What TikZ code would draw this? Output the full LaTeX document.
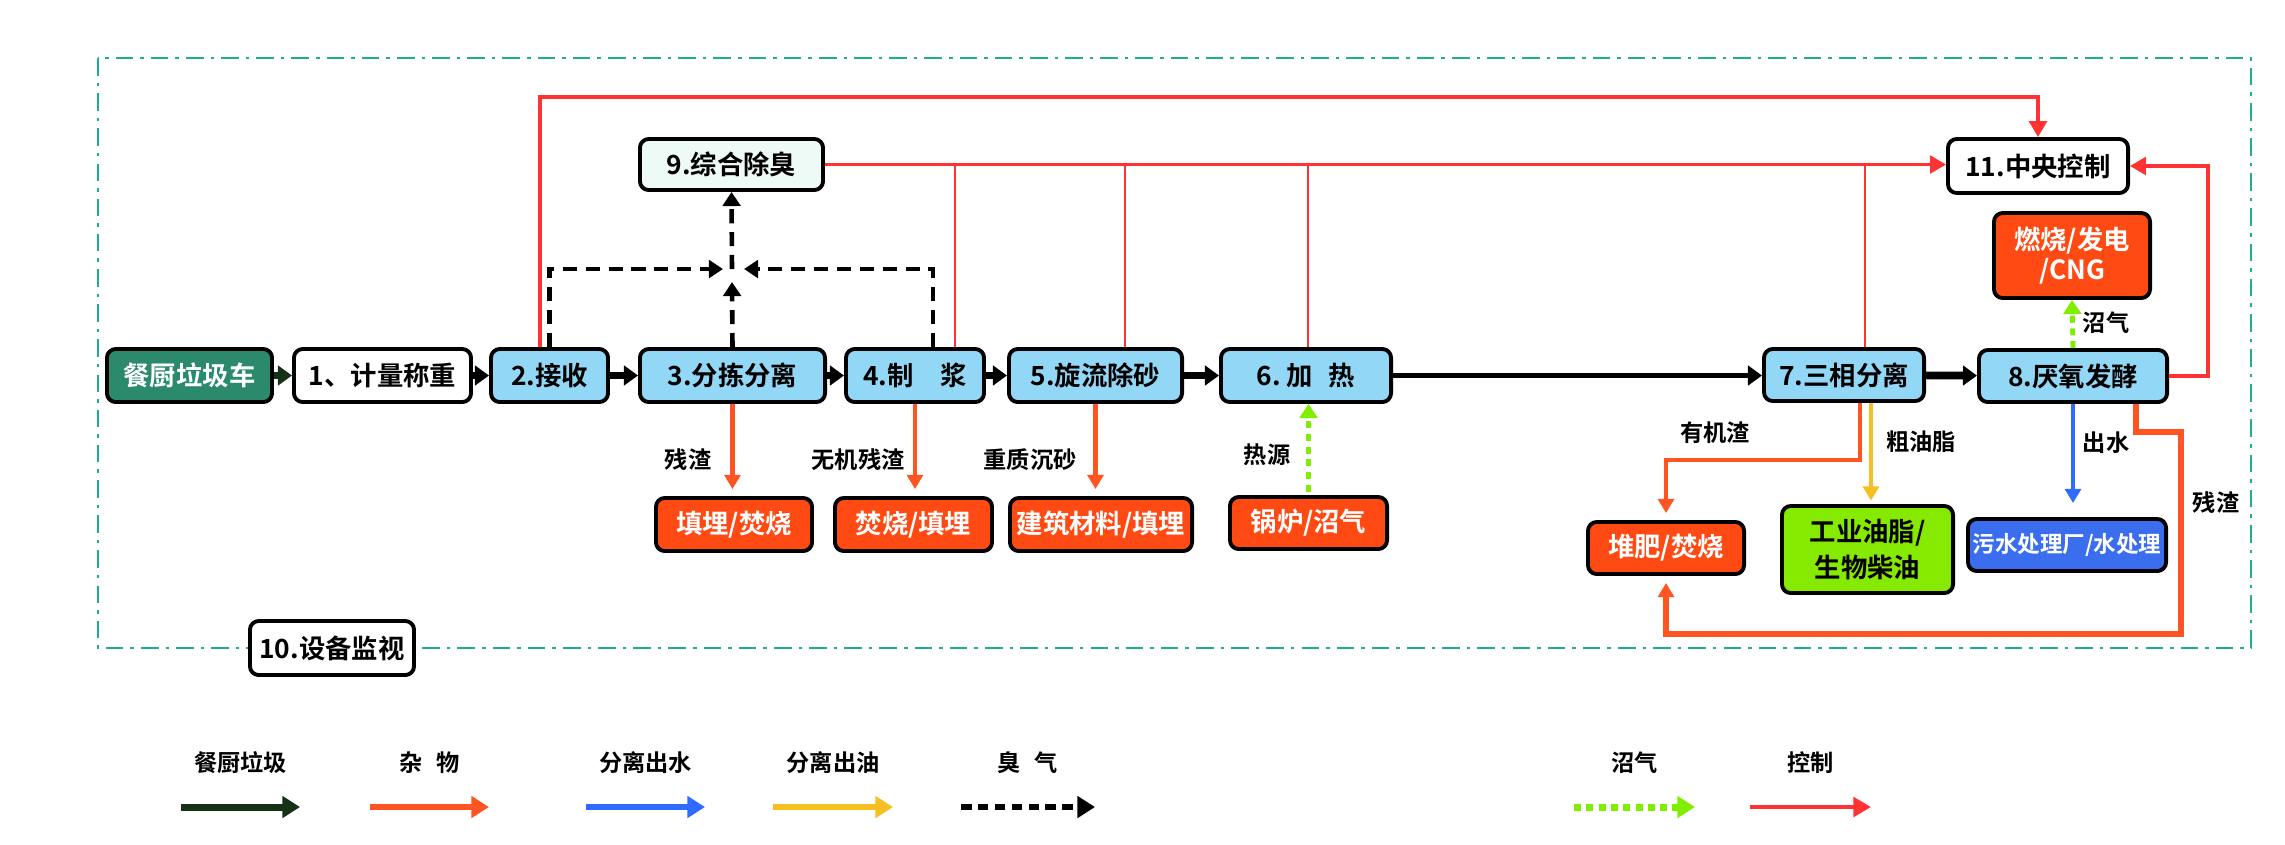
\documentclass[tikz,border=0pt]{standalone}
\usepackage{fontspec}
\setmainfont{Noto Sans CJK SC}[BoldFont=* Bold]
\usetikzlibrary{arrows.meta}
\definecolor{ProcClr}{HTML}{92D8F6}
\definecolor{TruckClr}{HTML}{2C8A6C}
\definecolor{SinkClr}{HTML}{FF4A14}
\definecolor{OilBoxClr}{HTML}{86EA00}
\definecolor{WaterBoxClr}{HTML}{3A6EEE}
\definecolor{OdourBoxClr}{HTML}{EEFAF6}
\definecolor{CtrlClr}{HTML}{FF3333}
\definecolor{WasteClr}{HTML}{FF5522}
\definecolor{WaterClr}{HTML}{2F6BFF}
\definecolor{OilClr}{HTML}{F5BF1F}
\definecolor{GasClr}{HTML}{7FEE00}
\definecolor{FoodClr}{HTML}{163216}
\definecolor{FrameClr}{HTML}{1FAE8C}

\begin{document}
\begin{tikzpicture}[x=0.01cm,y=-0.01cm,
  box/.style={draw,line width=1.1pt,rounded corners=2.5pt,inner sep=0pt,align=center,
    font=\bfseries\fontsize{7.5}{9}\selectfont},
  proc/.style={box,fill=ProcClr},
  sink/.style={box,fill=SinkClr,text=white},
  lbl/.style={font=\bfseries\fontsize{6.6}{7}\selectfont},
  food/.style={draw=FoodClr,line width=2.2pt,-{Triangle[length=4pt,width=5.5pt]}},
  mainflow/.style={line width=2.2pt,-{Triangle[length=4pt,width=5.5pt]}},
  smell/.style={line width=1.3pt,dash pattern=on 4pt off 2.5pt,-{Triangle[length=4pt,width=5pt]}},
  ctrlline/.style={draw=CtrlClr,line width=0.7pt},
  ctrlarrow/.style={ctrlline,-{Triangle[length=4.5pt,width=5pt]}},
  waste/.style={draw=WasteClr,line width=1.2pt,-{Triangle[length=4pt,width=4.5pt]},shorten >=2pt},
  water/.style={draw=WaterClr,line width=1.2pt,-{Triangle[length=4pt,width=4.5pt]},shorten >=4pt},
  oilflow/.style={draw=OilClr,line width=1.2pt,-{Triangle[length=4pt,width=4.5pt]},shorten >=1pt},
  gas/.style={draw=GasClr,line width=1.4pt,dash pattern=on 2pt off 1.6pt,-{Triangle[length=4pt,width=5pt]}},
  frame/.style={draw=FrameClr,line width=0.8pt,dash pattern=on 5pt off 2pt on 1pt off 2pt},
  legfood/.style={food,line width=2pt,-{Triangle[length=5pt,width=6pt]}},
  legwaste/.style={draw=WasteClr,line width=1.8pt,-{Triangle[length=5pt,width=6pt]}},
  legwater/.style={draw=WaterClr,line width=1.8pt,-{Triangle[length=5pt,width=6pt]}},
  legoil/.style={draw=OilClr,line width=1.8pt,-{Triangle[length=5pt,width=6pt]}},
  legsmell/.style={line width=1.6pt,dash pattern=on 3pt off 1.8pt,-{Triangle[length=5pt,width=6pt]}},
  leggas/.style={draw=GasClr,line width=2pt,dash pattern=on 2pt off 1.5pt,-{Triangle[length=5pt,width=6pt]}},
  legctrl/.style={draw=CtrlClr,line width=1.4pt,-{Triangle[length=5pt,width=5.5pt]}}]
\useasboundingbox (0,0) rectangle (2285,844);

\draw[frame] (98,58) rectangle (2251,648);

\node[box,fill=TruckClr,text=white,minimum width=1.65cm,minimum height=0.53cm] (car) at (189.5,375.5) {餐厨垃圾车};
\node[box,fill=white,minimum width=1.77cm,minimum height=0.53cm] (weigh) at (382.5,375.5) {1、计量称重};
\node[proc,minimum width=1.17cm,minimum height=0.53cm] (recv) at (549.5,375.5) {2.接收};
\node[proc,minimum width=1.85cm,minimum height=0.53cm] (sort) at (732.5,375.5) {3.分拣分离};
\node[proc,minimum width=1.38cm,minimum height=0.53cm] (pulp) at (915,375.5) {4.制\hspace{1em}浆};
\node[proc,minimum width=1.73cm,minimum height=0.53cm] (desand) at (1095.5,375.5) {5.旋流除砂};
\node[proc,minimum width=1.70cm,minimum height=0.53cm] (heat) at (1306,375.5) {6.~加\hspace{0.6em}热};
\node[proc,minimum width=1.60cm,minimum height=0.52cm] (sep3) at (1844,375) {7.三相分离};
\node[proc,minimum width=1.88cm,minimum height=0.52cm] (ferm) at (2073,376) {8.厌氧发酵};
\node[box,fill=OdourBoxClr,minimum width=1.83cm,minimum height=0.51cm] (deodor) at (731.5,164.5) {9.综合除臭};
\node[box,fill=white,minimum width=1.80cm,minimum height=0.54cm] (ctrl) at (2038,166) {11.中央控制};
\node[sink,minimum width=1.56cm,minimum height=0.85cm,font=\bfseries\fontsize{7.5}{8.5}\selectfont] (gasuse) at (2072,255.5) {燃烧/发电\\/CNG};
\node[sink,minimum width=1.56cm,minimum height=0.53cm] (fill1) at (734,524.5) {填埋/焚烧};
\node[sink,minimum width=1.57cm,minimum height=0.53cm] (burn1) at (913.5,524.5) {焚烧/填埋};
\node[sink,minimum width=1.82cm,minimum height=0.53cm] (build) at (1101,524.5) {建筑材料/填埋};
\node[sink,minimum width=1.57cm,minimum height=0.52cm] (boiler) at (1308.5,523) {锅炉/沼气};
\node[sink,minimum width=1.56cm,minimum height=0.52cm] (compost) at (1666,548) {堆肥/焚烧};
\node[box,fill=OilBoxClr,minimum width=1.71cm,minimum height=0.87cm,font=\bfseries\fontsize{7.5}{10}\selectfont] (oil) at (1867.5,549.5) {工业油脂/\\生物柴油};
\node[box,fill=WaterBoxClr,text=white,minimum width=1.98cm,minimum height=0.52cm,font=\bfseries\fontsize{6.4}{7}\selectfont] (sewage) at (2067,545) {污水处理厂/水处理};
\node[box,fill=white,minimum width=1.64cm,minimum height=0.54cm] (monitor) at (332,648) {10.设备监视};

\draw[food] (car) -- (weigh);
\foreach \a/\b in {weigh/recv,recv/sort,sort/pulp,pulp/desand,desand/heat,sep3/ferm}
  \draw[mainflow] (\a) -- (\b);
\draw[mainflow,line width=1.5pt] (heat.east) -- (heat.east -| sep3.west);

\coordinate (sj) at (732,269);
\coordinate (pj) at (933,269);
\draw[smell] (recv.north) -- (recv.north |- sj) -- ([xshift=-0.09cm]sj);
\draw[smell] (pj |- pulp.north) -- (pj) -- ([xshift=0.12cm]sj);
\draw[smell] (sort.north) -- ([yshift=-0.13cm]sj);
\draw[smell] (sj) -- (deodor.south);

\coordinate (ctop) at (540,97);
\coordinate (cr) at (2208,164);
\draw[ctrlarrow,line width=1pt] (recv.north -| ctop) -- (ctop) -| (ctrl.north);
\draw[ctrlarrow,line width=0.9pt] (deodor.east) -- (deodor.east -| ctrl.west);
\foreach \n/\x in {pulp/955,desand/1125,heat/1308,sep3/1865}{
  \coordinate (cv) at (\x,164);
  \draw[ctrlline] (cv) -- (cv |- \n.north);
}
\draw[ctrlarrow,line width=0.9pt] (ferm.east) -| (cr |- ctrl.east) -- (ctrl.east);

\draw[waste] (sort.south) -- (sort.south |- fill1.north);
\draw[waste] (pulp.south) -- (pulp.south |- burn1.north);
\draw[waste] (desand.south) -- (desand.south |- build.north);
\draw[gas,shorten <=1pt] (boiler.north) -- (boiler.north |- heat.south);
\node[lbl] (l3) at (688,460) {残渣};
\node[lbl] (l4) at (858,460) {无机残渣};
\node[lbl] (l5) at (1030,460) {重质沉砂};
\node[lbl] (l6) at (1267,455) {热源};

\coordinate (o7) at (1860,460);
\coordinate (y7) at (1871,503);
\draw[waste] (o7 |- sep3.south) -- (o7) -| (compost.north);
\draw[oilflow] (y7 |- sep3.south) -- (y7 |- oil.north);
\draw[water] (ferm.south) -- (ferm.south |- sewage.north);
\draw[gas] (ferm.north) -- (gasuse.south);
\coordinate (r8) at (2136,432);
\coordinate (r8b) at (2181,634);
\draw[waste,line width=1.5pt] (r8 |- ferm.south) -- (r8) -| (r8b) -| (compost.south);
\node[lbl] (l7) at (1715,433) {有机渣};
\node[lbl] (l7b) at (1921,442) {粗油脂};
\node[lbl] (l8) at (2106,443) {出水};
\node[lbl] (l8b) at (2216,503) {残渣};
\node[lbl] (l8c) at (2106,323) {沼气};

\foreach \s/\e/\st/\t in {181/300/legfood/餐厨垃圾,370/489/legwaste/杂\hspace{0.6em}物,
    586/705/legwater/分离出水,773/893/legoil/分离出油,961/1095/legsmell/臭\hspace{0.6em}气,
    1574/1695/leggas/沼气,1750/1871/legctrl/控制}{
  \coordinate (ls) at (\s,807);
  \coordinate (le) at (\e,807);
  \node[lbl] at ({(\s+\e)/2},763) {\t};
  \draw[\st] (ls) -- (le);
}
\end{tikzpicture}
\end{document}
